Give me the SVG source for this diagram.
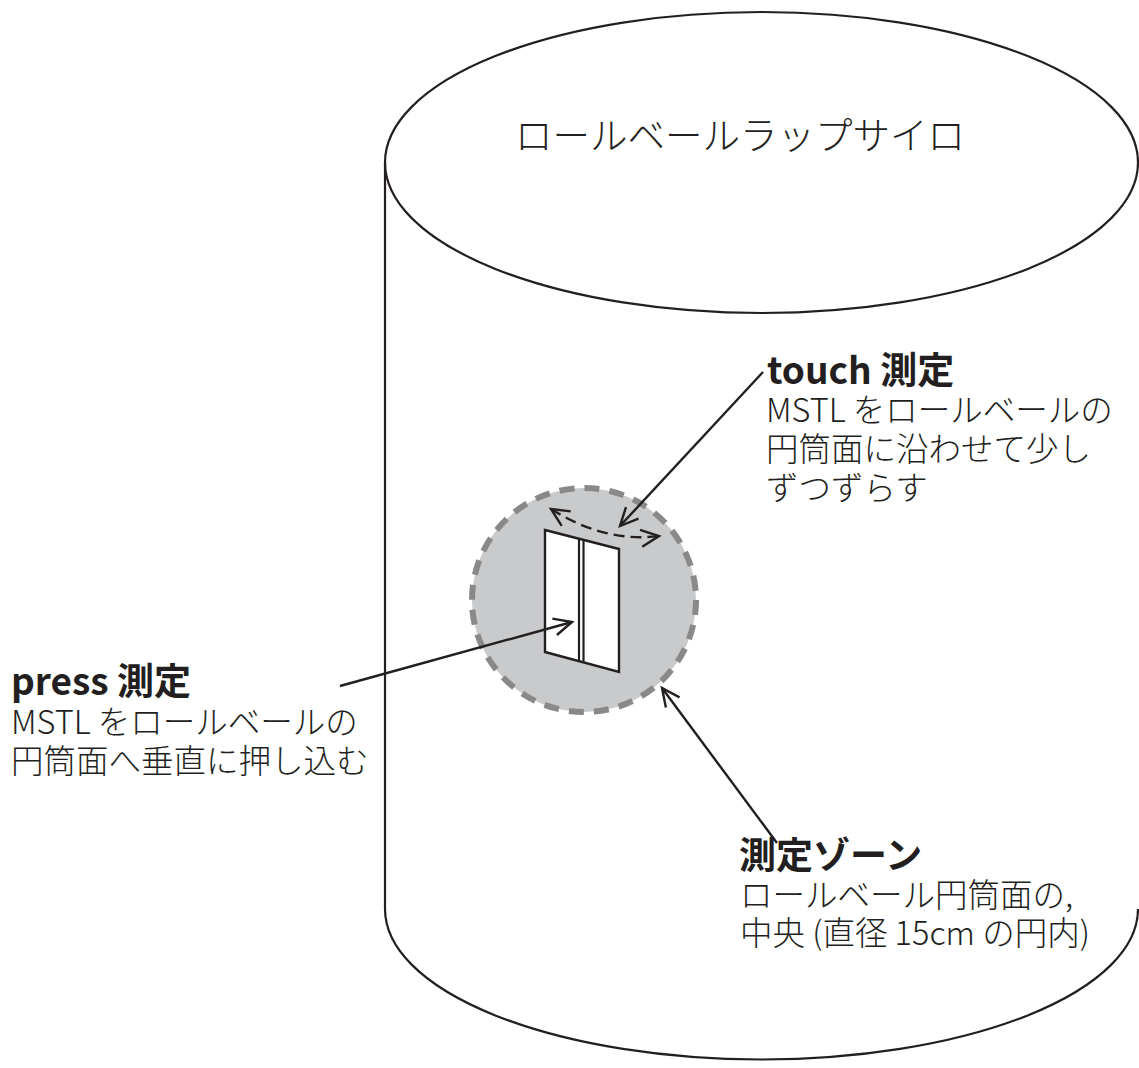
<svg xmlns="http://www.w3.org/2000/svg" width="1139" height="1068" viewBox="0 0 1139 1068">
  <style>
    .ink { fill: none; stroke: #231f20; stroke-width: 2.2; }
    .txt { font-family: "Noto Sans CJK JP", "Noto Sans", sans-serif; fill: #231f20; }
    .title { font-size: 37.5px; font-weight: 300; }
    .head { font-size: 37px; font-weight: 700; }
    .body { font-size: 32.5px; font-weight: 300; }
    .conn { fill: none; stroke: #231f20; stroke-width: 2.4; }
    .dash { stroke-dasharray: 11 6; }
  </style>
  <defs>
    <marker id="open-arrow" markerUnits="userSpaceOnUse" markerWidth="26" markerHeight="26" viewBox="-22 -11 26 22" refX="0" refY="0" orient="auto-start-reverse">
      <path d="M -18 -8.5 L 0 0 L -18 8.5" fill="none" stroke="#231f20" stroke-width="2.4" stroke-linejoin="miter"/>
    </marker>
  </defs>

  <rect width="1139" height="1068" fill="#ffffff"/>

  <!-- wrapped bale silo: cylinder with elliptical top -->
  <g id="silo">
    <path class="ink" d="M 385 163 L 385 909 A 376.5 150.5 0 0 0 1138 909"/>
    <ellipse class="ink" cx="761.5" cy="162.5" rx="376.5" ry="150.5" fill="#ffffff"/>
    <text class="txt title" x="515" y="149">ロールベールラップサイロ</text>
  </g>

  <!-- measurement zone on the bale surface -->
  <g id="zone">
    <circle cx="584" cy="600" r="112" fill="#c9cacc" stroke="#898989" stroke-width="6" stroke-dasharray="15 10.13"/>
  </g>

  <!-- MSTL sensor panel -->
  <g id="mstl">
    <polygon points="545,530 619,549 619,672 545,652" fill="#ffffff" stroke="#231f20" stroke-width="2.4" stroke-linejoin="miter"/>
    <line x1="579" y1="538.7" x2="579" y2="661" stroke="#231f20" stroke-width="2.2"/>
    <line x1="583.5" y1="539.8" x2="583.5" y2="662" stroke="#231f20" stroke-width="2.2"/>
  </g>

  <!-- leader lines and movement arrow -->
  <g id="connectors">
    <path class="conn dash" d="M 551 509 Q 605 543 659 536" marker-start="url(#open-arrow)" marker-end="url(#open-arrow)"/>
    <line class="conn" x1="763" y1="372" x2="620" y2="526" marker-end="url(#open-arrow)"/>
    <line class="conn" x1="340" y1="686" x2="572" y2="622" marker-end="url(#open-arrow)"/>
    <line class="conn" x1="777" y1="843" x2="662" y2="688" marker-end="url(#open-arrow)"/>
  </g>

  <g id="touch-label">
    <text class="txt head" x="767" y="384">touch 測定</text>
    <text class="txt body" x="766" y="422">MSTL をロールベールの</text>
    <text class="txt body" x="766" y="461">円筒面に沿わせて少し</text>
    <text class="txt body" x="766" y="500">ずつずらす</text>
  </g>

  <g id="press-label">
    <text class="txt head" x="11" y="695">press 測定</text>
    <text class="txt body" x="11" y="734">MSTL をロールベールの</text>
    <text class="txt body" x="11" y="773">円筒面へ垂直に押し込む</text>
  </g>

  <g id="zone-label">
    <text class="txt head" x="739" y="869">測定ゾーン</text>
    <text class="txt body" x="740" y="907">ロールベール円筒面の,</text>
    <text class="txt body" x="740" y="945">中央 (直径 15cm の円内)</text>
  </g>
</svg>
